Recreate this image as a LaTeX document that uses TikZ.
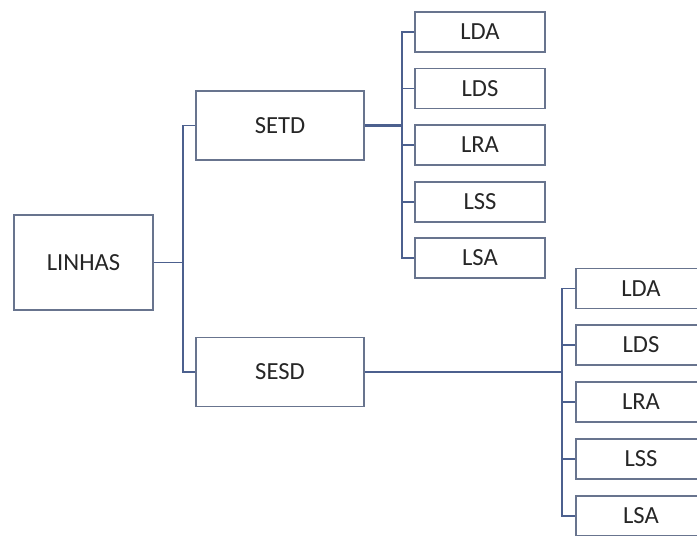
\documentclass[tikz,border=0pt]{standalone}
\usepackage{fontspec}
\setmainfont{Carlito}
\usepackage{tikz}
\usetikzlibrary{positioning}
\usepackage{xcolor}
\definecolor{treeline}{RGB}{76, 96, 142}
\definecolor{boxedge}{RGB}{104, 116, 142}

\begin{document}
\begin{tikzpicture}[x=0.02cm, y=-0.02cm,
    unit/.style={draw=boxedge, line width=0.9pt, font=\fontsize{14}{16}\selectfont, text=black!85},
    rootbox/.style={unit, minimum width=2.78cm, minimum height=1.9cm},
    secbox/.style={unit, minimum width=3.36cm, minimum height=1.38cm},
    leafbox/.style={unit, minimum width=2.6cm, minimum height=0.8cm},
    link/.style={treeline, line width=0.8pt}]
    \useasboundingbox (0,0) rectangle (697,535);
    \clip (0,0) rectangle (697,535);

    % Root
    \node[rootbox] (linhas) at (83.5,262.5) {LINHAS};

    % Sections
    \node[secbox] (setd) at (280,125.5) {SETD};
    \node[secbox] (sesd) at (280,372) {SESD};

    % Leaves of SETD
    \foreach \name/\yy in {LDA/32, LDS/88.5, LRA/145, LSS/202, LSA/258}
        \node[leafbox] (setd-\name) at (480,\yy) {\name};

    % Leaves of SESD
    \foreach \name/\yy in {LDA/288.5, LDS/345, LRA/402, LSS/459, LSA/516}
        \node[leafbox] (sesd-\name) at (641,\yy) {\name};

    % Buses
    \coordinate (rootbus) at (183,262.5);
    \coordinate (setdbus) at (402,125.5);
    \coordinate (sesdbus) at (562,372);

    % Root to sections
    \draw[link] (linhas.east) -- (rootbus);
    \draw[link] (setd.west) -| (rootbus);
    \draw[link] (sesd.west) -| (rootbus);

    % Sections to leaves
    \draw[link, line width=1.4pt] (setd.east) -- (setdbus);
    \draw[link] (sesd.east) -- (sesdbus);
    \foreach \name in {LDA, LDS, LRA, LSS, LSA} {
        \draw[link] (setd-\name.west) -| (setdbus);
        \draw[link] (sesd-\name.west) -| (sesdbus);
    }
\end{tikzpicture}
\end{document}
